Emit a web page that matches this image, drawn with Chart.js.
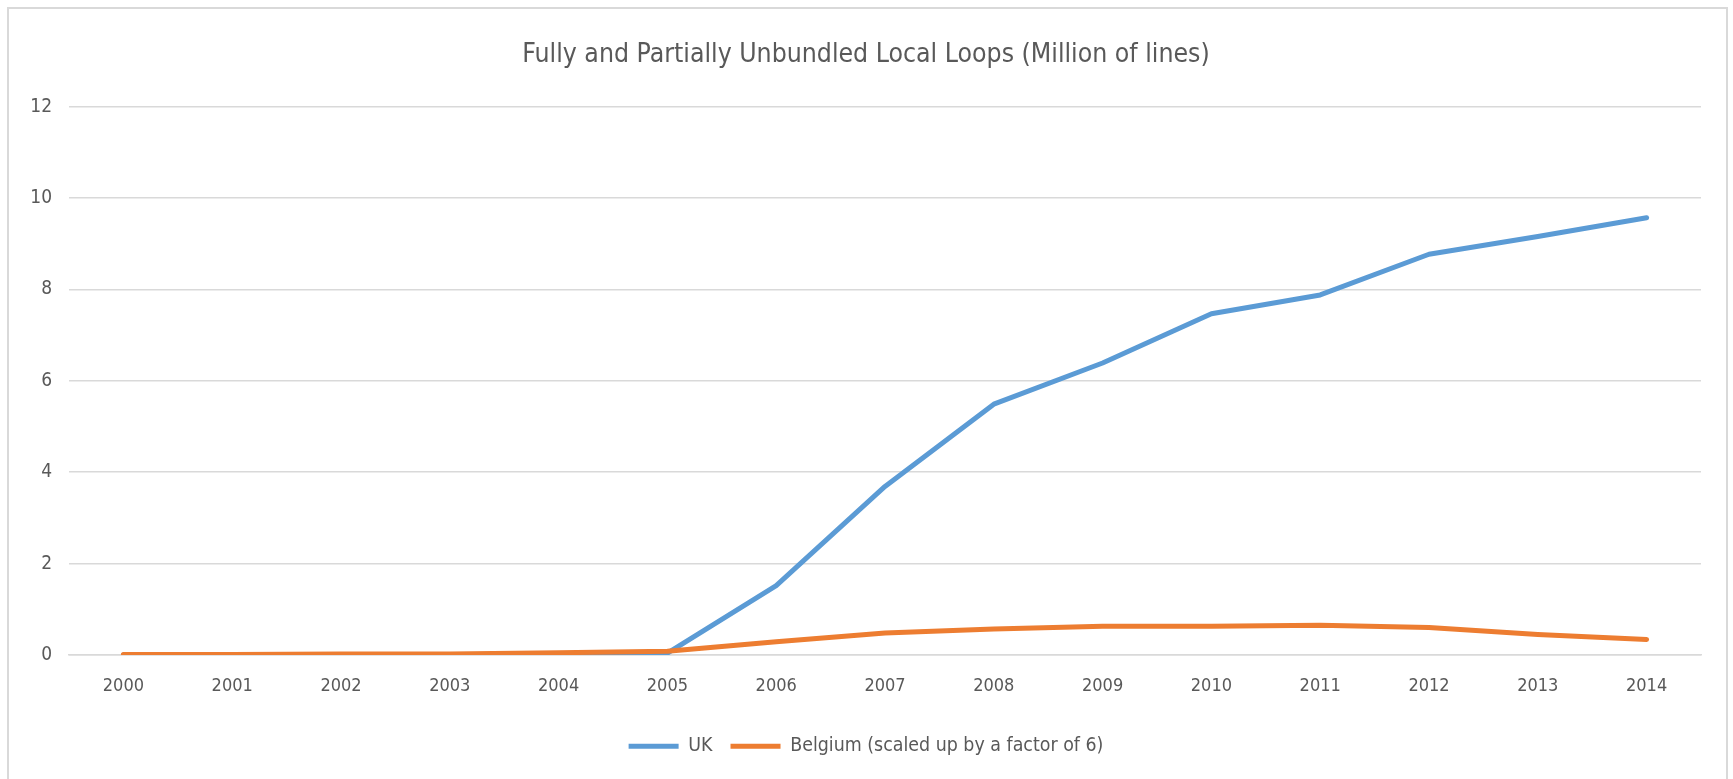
<!DOCTYPE html>
<html>
<head>
<meta charset="utf-8">
<script src="https://cdn.jsdelivr.net/npm/chart.js@4.4.1/dist/chart.umd.min.js"></script>
<style>
  html, body { margin: 0; padding: 0; background: #ffffff; }
  #wrap { position: absolute; left: 0; top: 0; width: 1733px; height: 779px; }
  #frame { position: absolute; left: 7px; top: 7px; width: 1721px; height: 800px;
           border: 2px solid #d9d9d9; pointer-events: none; box-sizing: border-box; }
</style>
</head>
<body>
<div id="wrap"><canvas id="chart" width="1733" height="779"></canvas></div>
<div id="frame"></div>
<script>
// Years on the category axis
const years = ['2000','2001','2002','2003','2004','2005','2006','2007',
               '2008','2009','2010','2011','2012','2013','2014'];

// Unbundled local loops, million of lines
const ukLines = [0, 0, 0, 0, 0.01, 0.04, 1.52, 3.69, 5.49, 6.39, 7.47, 7.88, 8.77, 9.16, 9.57];
const belgiumScaled = [0.01, 0.01, 0.02, 0.02, 0.05, 0.08, 0.29, 0.48, 0.57, 0.63, 0.63, 0.65, 0.6, 0.45, 0.34];

// Value axis ticks
const yTicks = [0, 2, 4, 6, 8, 10, 12];

const seriesNames = ['UK', 'Belgium (scaled up by a factor of 6)'];

const FONT = '"Liberation Sans Narrow", "DejaVu Sans Condensed", "Liberation Sans", sans-serif';
const TEXT = '#595959';
const GRID = '#d9d9d9';

new Chart(document.getElementById('chart'), {
  type: 'line',
  data: {
    labels: years,
    datasets: [
      {
        label: seriesNames[0],
        data: ukLines,
        borderColor: '#5b9bd5',
        backgroundColor: '#5b9bd5',
        borderWidth: 5,
        borderCapStyle: 'round',
        borderJoinStyle: 'round',
        pointRadius: 0,
        tension: 0,
        order: 1
      },
      {
        label: seriesNames[1],
        data: belgiumScaled,
        borderColor: '#ed7d31',
        backgroundColor: '#ed7d31',
        borderWidth: 5,
        borderCapStyle: 'round',
        borderJoinStyle: 'round',
        pointRadius: 0,
        tension: 0,
        order: 0
      }
    ]
  },
  options: {
    responsive: false,
    animation: false,
    layout: { padding: { left: 31, right: 32, top: 0, bottom: 13 } },
    plugins: {
      title: {
        display: true,
        text: 'Fully and Partially Unbundled Local Loops (Million of lines)',
        color: TEXT,
        font: { family: FONT, size: 26.4, weight: 'normal' },
        padding: { top: 39, bottom: 36 }
      },
      legend: {
        position: 'bottom',
        labels: {
          color: TEXT,
          font: { family: FONT, size: 19.4 },
          usePointStyle: true,
          pointStyleWidth: 50,
          pointStyle: 'line',
          boxHeight: 19,
          padding: 18,
          sort: (a, b) => a.datasetIndex - b.datasetIndex
        }
      },
      tooltip: { enabled: false }
    },
    scales: {
      x: {
        offset: true,
        grid: { display: false, drawTicks: false },
        border: { display: true, color: GRID, width: 1.5 },
        ticks: { color: TEXT, font: { family: FONT, size: 18 }, padding: 21, maxRotation: 0 }
      },
      y: {
        min: 0,
        max: 12,
        afterBuildTicks: (scale) => { scale.ticks = yTicks.map(v => ({ value: v })); },
        afterFit: (scale) => { scale.width = 38; },
        grid: { color: GRID, lineWidth: 1.5, drawTicks: false },
        border: { display: false },
        ticks: { color: TEXT, font: { family: FONT, size: 19 }, padding: 17 }
      }
    }
  }
});
</script>
</body>
</html>
